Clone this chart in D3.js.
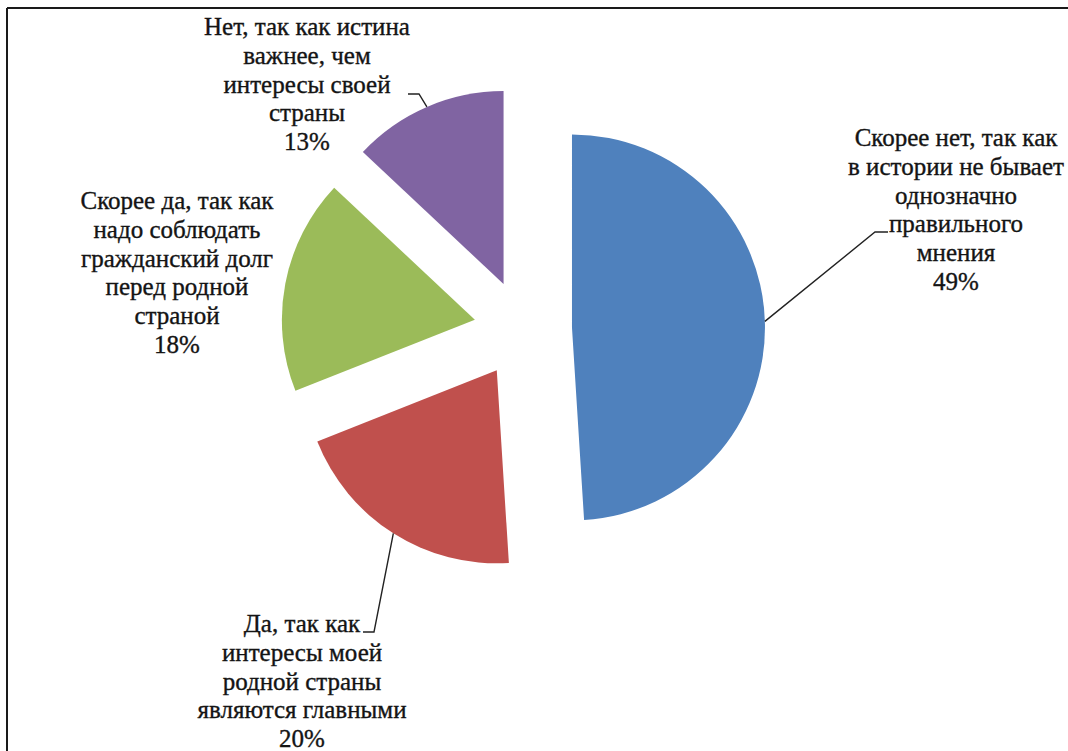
<!DOCTYPE html>
<html>
<head>
<meta charset="utf-8">
<script src="https://cdn.jsdelivr.net/npm/d3@7"></script>
<style>
  html, body { margin: 0; padding: 0; background: #ffffff; }
  svg { display: block; }
  .lbl { font-family: "Liberation Serif"; }
</style>
</head>
<body>
<svg id="chart" width="1068" height="751"></svg>
<script>
// Survey answers, in drawing order (clockwise from 12 o'clock)
const categories = [
  "Скорее нет, так как в истории не бывает однозначно правильного мнения",
  "Да, так как интересы моей родной страны являются главными",
  "Скорее да, так как надо соблюдать гражданский долг перед родной страной",
  "Нет, так как истина важнее, чем интересы своей страны"
];
const values = [49, 20, 18, 13];
const labelLines = [
  ["Скорее нет, так как", "в истории не бывает", "однозначно", "правильного", "мнения"],
  ["Да, так как", "интересы моей", "родной страны", "являются главными"],
  ["Скорее да, так как", "надо соблюдать", "гражданский долг", "перед родной", "страной"],
  ["Нет, так как истина", "важнее, чем", "интересы своей", "страны"]
];
const colors = ["#4f81bd", "#c0504d", "#9bbb59", "#8064a2"];

// Layout
const W = 1068, H = 751;
const cx = 523, cy = 329;
const radius = 193;
const explode = 49;
const lineH = 28.8;
const fontSize = 25;
// label block: centre x, baseline of first line
const labelPos = [
  { x: 956, y: 146 },
  { x: 302, y: 632 },
  { x: 177, y: 209 },
  { x: 307, y: 35 }
];
// leader polylines: elbow point and end point near the text
const leaderEnds = [
  { ex: 875, ey: 232, tx: 888, ty: 232 },
  { ex: 374, ey: 632, tx: 363, ty: 632 },
  null,
  { ex: 419, ey: 94, tx: 408, ty: 94 }
];

const svg = d3.select("#chart");
svg.append("rect").attr("width", W).attr("height", H).attr("fill", "#ffffff");

// frame lines (top and left)
svg.append("line").attr("x1", 7).attr("y1", 8).attr("x2", W).attr("y2", 8)
  .attr("stroke", "#1a1a1a").attr("stroke-width", 2);
svg.append("line").attr("x1", 7).attr("y1", 8).attr("x2", 7).attr("y2", H)
  .attr("stroke", "#1a1a1a").attr("stroke-width", 2);

const pie = d3.pie().sort(null).value(d => d)
  .startAngle(0).endAngle(2 * Math.PI);
const arcs = pie(values);
const arc = d3.arc().innerRadius(0).outerRadius(radius);

const g = svg.append("g").attr("transform", `translate(${cx},${cy})`);

function offsetOf(d) {
  const mid = (d.startAngle + d.endAngle) / 2;
  return [explode * Math.sin(mid), -explode * Math.cos(mid)];
}

g.selectAll("path.slice")
  .data(arcs)
  .join("path")
  .attr("class", "slice")
  .attr("transform", d => { const o = offsetOf(d); return `translate(${o[0]},${o[1]})`; })
  .attr("d", arc)
  .attr("fill", (d, i) => colors[i]);

// leader lines from the slice edge at its mid angle
arcs.forEach((d, i) => {
  const le = leaderEnds[i];
  if (!le) return;
  const mid = (d.startAngle + d.endAngle) / 2;
  const o = offsetOf(d);
  const sx = cx + o[0] + radius * Math.sin(mid);
  const sy = cy + o[1] - radius * Math.cos(mid);
  svg.append("polyline")
    .attr("points", [[sx, sy], [le.ex, le.ey], [le.tx, le.ty]].map(p => p.join(",")).join(" "))
    .attr("fill", "none")
    .attr("stroke", "#222")
    .attr("stroke-width", 1.4);
});

// data labels: wrapped category text plus percentage
const total = d3.sum(values);
arcs.forEach((d, i) => {
  const p = labelPos[i];
  const lines = labelLines[i].concat([Math.round(values[i] / total * 100) + "%"]);
  const t = svg.append("text")
    .attr("class", "lbl")
    .attr("x", p.x).attr("y", p.y)
    .attr("text-anchor", "middle")
    .style("font-family", "Liberation Serif")
    .style("font-size", fontSize + "px")
    .attr("fill", "#141414")
    .attr("stroke", "#141414")
    .attr("stroke-width", 0.35);
  lines.forEach((ln, k) => {
    t.append("tspan").attr("x", p.x).attr("y", p.y + k * lineH).text(ln);
  });
});
</script>
</body>
</html>
